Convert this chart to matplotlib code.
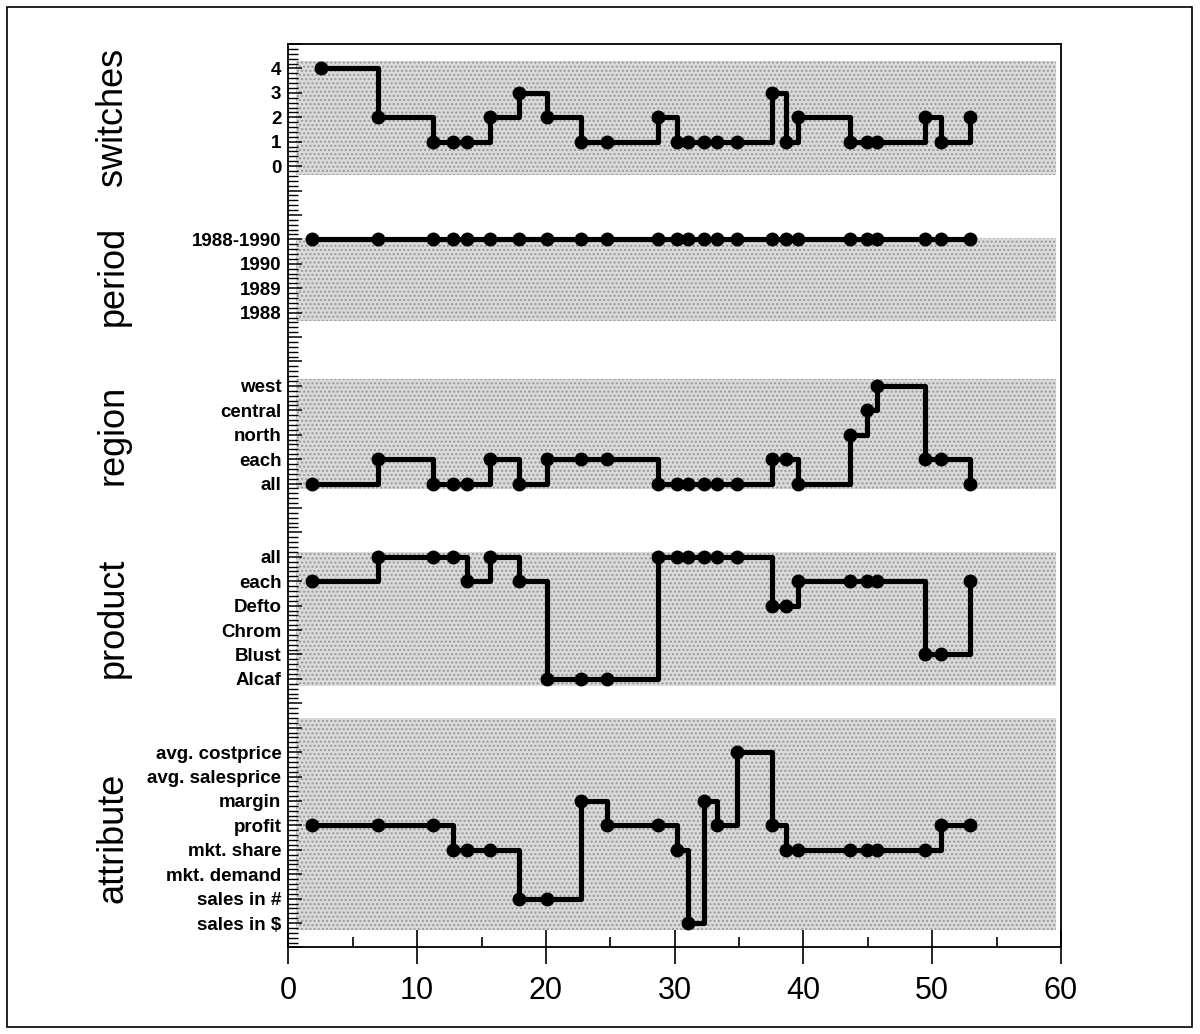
import matplotlib.pyplot as plt
import matplotlib.patches as patches
import matplotlib.transforms as mtransforms
import numpy as np

plt.rcParams['font.family'] = ['Liberation Sans', 'DejaVu Sans']

# step positions (x)
step_x = [1.87, 6.96, 11.24, 12.82, 13.86, 15.63, 17.94, 20.1, 22.76, 24.75,
          28.67, 30.15, 31.0, 32.25, 33.25, 34.87, 37.52, 38.61, 39.6,
          43.6, 44.9, 45.7, 49.4, 50.7, 52.9]
switches_x = [2.5] + step_x[1:]

# category names of every dimension
attribute_cats = ['sales in \\$', 'sales in #', 'mkt. demand', 'mkt. share',
                  'profit', 'margin', 'avg. salesprice', 'avg. costprice']
product_cats = ['Alcaf', 'Blust', 'Chrom', 'Defto', 'each', 'all']
region_cats = ['all', 'each', 'north', 'central', 'west']
period_cats = ['1988', '1989', '1990', '1988-1990']
switches_cats = ['0', '1', '2', '3', '4']

# values at each step
switches_vals = [4, 2, 1, 1, 1, 2, 3, 2, 1, 1, 2, 1, 1, 1, 1, 1, 3, 1, 2,
                 1, 1, 1, 2, 1, 2]
period_vals = ['1988-1990'] * 25
region_vals = ['all', 'each', 'all', 'all', 'all', 'each', 'all', 'each', 'each', 'each',
               'all', 'all', 'all', 'all', 'all', 'all', 'each', 'each', 'all',
               'north', 'central', 'west', 'each', 'each', 'all']
product_vals = ['each', 'all', 'all', 'all', 'each', 'all', 'each', 'Alcaf', 'Alcaf', 'Alcaf',
                'all', 'all', 'all', 'all', 'all', 'all', 'Defto', 'Defto', 'each',
                'each', 'each', 'each', 'Blust', 'Blust', 'each']
attribute_vals = ['profit', 'profit', 'profit', 'mkt. share', 'mkt. share', 'mkt. share',
                  'sales in #', 'sales in #', 'margin', 'profit',
                  'profit', 'mkt. share', 'sales in \\$', 'margin', 'profit', 'avg. costprice',
                  'profit', 'mkt. share', 'mkt. share',
                  'mkt. share', 'mkt. share', 'mkt. share', 'mkt. share', 'profit', 'profit']

# panel layout: (name, categories, values, x, base y, band low, band high)
panels = [
    ('attribute', attribute_cats, attribute_vals, step_x, 1, 0.72, 9.38),
    ('product', product_cats, product_vals, step_x, 11, 10.7, 16.2),
    ('region', region_cats, region_vals, step_x, 19, 18.78, 23.3),
    ('period', period_cats, period_vals, step_x, 26, 25.65, 29.05),
    ('switches', switches_cats, [str(v) for v in switches_vals], switches_x, 32, 31.65, 36.3),
]

fig = plt.figure(figsize=(12, 10.34), dpi=100)
ax = fig.add_axes([0.2403, 0.0837, 0.6439, 0.8737])

tick_pos = []
tick_lab = []
for name, cats, vals, xs, base, lo, hi in panels:
    ax.axhspan(lo, hi, xmin=0.6 / 60, xmax=59.6 / 60, facecolor='#dadada',
               edgecolor='#989898', hatch='....', linewidth=0, zorder=0)
    ys = [base + cats.index(v) for v in vals]
    ax.plot(xs, ys, drawstyle='steps-post', color='black', lw=3.7,
            marker='o', markersize=9, zorder=3)
    for i, c in enumerate(cats):
        tick_pos.append(base + i)
        tick_lab.append(c)
    trans = mtransforms.blended_transform_factory(ax.transAxes, ax.transData)
    ax.text(-0.227, base + (len(cats) - 1) / 2, name, transform=trans,
            rotation=90, ha='center', va='center', fontsize=26)

ax.set_xlim(0, 60)
ax.set_ylim(0, 37)

# y axis: integer ticks, labels only at category positions
ax.set_yticks(np.arange(0, 38))
labels = []
for v in range(38):
    labels.append(tick_lab[tick_pos.index(v)] if v in tick_pos else '')
ax.set_yticklabels(labels, fontsize=13.5, fontweight='bold')
ax.set_yticks(np.round(np.arange(0, 37.01, 0.2), 2), minor=True)
ax.tick_params(axis='y', which='major', direction='in', length=10, width=1.1, pad=5)
ax.tick_params(axis='y', which='minor', direction='in', length=7, width=1.0,
               color='black')

ax.set_xticks(np.arange(0, 61, 10))
ax.set_xticks(np.arange(5, 60, 10), minor=True)
ax.tick_params(axis='x', which='major', direction='inout', length=25, width=1.2,
               labelsize=22, pad=8)
ax.tick_params(axis='x', which='minor', direction='in', length=7, width=1.2)

for s in ax.spines.values():
    s.set_linewidth(1.3)

# outer frame
fig.patches.append(patches.Rectangle((7 / 1200, 7 / 1034), 1185 / 1200, 1020 / 1034,
                                     transform=fig.transFigure, fill=False,
                                     edgecolor='black', linewidth=1.2))

fig.savefig('out.png', dpi=100)
